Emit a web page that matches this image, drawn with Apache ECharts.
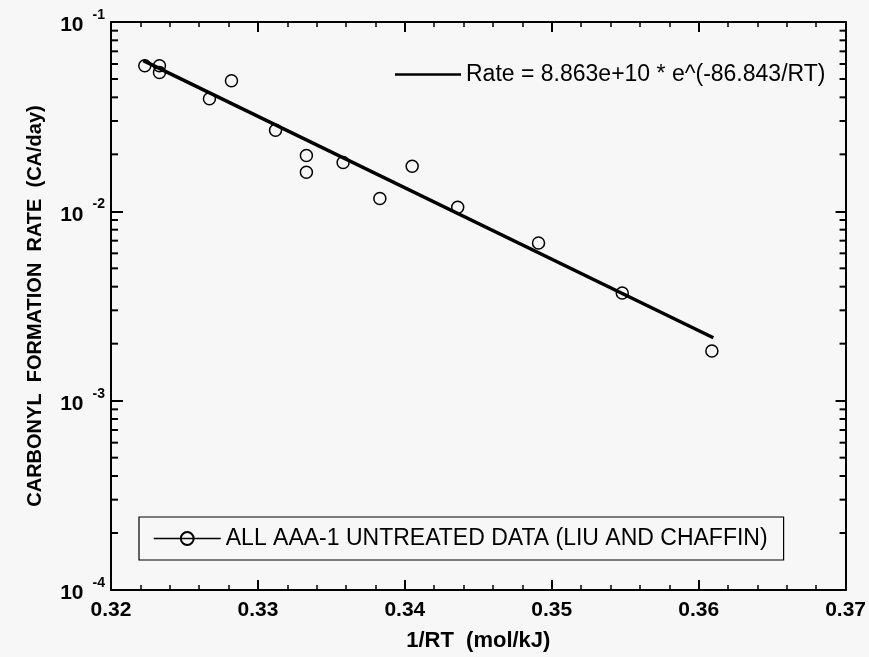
<!DOCTYPE html>
<html>
<head>
<meta charset="utf-8">
<script src="https://cdn.jsdelivr.net/npm/echarts@6/dist/echarts.min.js"></script>
<style>
  html, body { margin: 0; padding: 0; background: #f7f7f7; }
  #chart { width: 869px; height: 657px; }
</style>
</head>
<body>
<div id="chart"></div>
<script>
// Measured reciprocal temperature (mol/kJ) and carbonyl formation rate (CA/day)
const invRT = [0.3223, 0.3233, 0.3233, 0.3267, 0.3282, 0.3312, 0.3333, 0.3333,
               0.3358, 0.3383, 0.3405, 0.3436, 0.3491, 0.3548, 0.3609];
const rate  = [0.0587, 0.0587, 0.0541, 0.0393, 0.0489, 0.0268, 0.0197, 0.0161,
               0.0181, 0.0117, 0.0173, 0.0105, 0.0068, 0.0037, 0.00183];

// Arrhenius fit: Rate = A * e^(-Ea/RT), drawn over the span of the data
const fitA = 8.863e10;
const fitEa = 86.843;
const fitRange = [0.3222, 0.3610];

// Axis ticks
const xTicks = [0.32, 0.33, 0.34, 0.35, 0.36, 0.37];
const yDecades = [1e-4, 1e-3, 1e-2, 1e-1];
const yMinorMultipliers = [2, 3, 4, 5, 6, 7, 8, 9];

const FONT = '"Liberation Sans", Arial, Helvetica, sans-serif';
const INK = '#000';

const fitName = 'Rate = ' + fitA.toExponential(3) + ' * e^(-' + fitEa + '/RT)';
const dataName = 'ALL AAA-1 UNTREATED DATA (LIU AND CHAFFIN)';

const points = invRT.map((x, i) => [x, rate[i]]);
const fitLine = fitRange.map(x => [x, fitA * Math.exp(-fitEa * x)]);

const minorY = [];
yDecades.slice(0, -1).forEach(d => yMinorMultipliers.forEach(m => minorY.push([xTicks[0], m * d])));

const chart = echarts.init(document.getElementById('chart'), null, { renderer: 'canvas' });

const xCommon = {
  type: 'value',
  min: xTicks[0],
  max: xTicks[xTicks.length - 1],
  interval: 0.01,
  axisLine: { show: true, lineStyle: { color: INK, width: 2 } },
  axisTick: { show: true, inside: true, length: 10, lineStyle: { color: INK, width: 2 } },
  minorTick: { show: true, splitNumber: 5, length: 5, lineStyle: { color: INK, width: 1.5 } },
  splitLine: { show: false },
  minorSplitLine: { show: false }
};

const yCommon = {
  type: 'log',
  logBase: 10,
  min: yDecades[0],
  max: yDecades[yDecades.length - 1],
  splitNumber: 3,
  axisLine: { show: true, lineStyle: { color: INK, width: 2 } },
  axisTick: { show: true, inside: true, length: 12, lineStyle: { color: INK, width: 2 } },
  splitLine: { show: false }
};

chart.setOption({
  backgroundColor: '#f7f7f7',
  animation: false,
  grid: { left: 111, right: 21, top: 22, bottom: 65 },
  xAxis: [
    Object.assign({}, xCommon, {
      position: 'bottom',
      name: '1/RT  (mol/kJ)',
      nameLocation: 'middle',
      nameGap: 40,
      nameTextStyle: { fontFamily: FONT, fontWeight: 'bold', fontSize: 22, color: INK },
      axisLabel: {
        margin: 10,
        fontFamily: FONT, fontWeight: 'bold', fontSize: 21, color: INK,
        formatter: v => v.toFixed(2)
      }
    }),
    Object.assign({}, xCommon, { position: 'top', axisLabel: { show: false } })
  ],
  yAxis: [
    Object.assign({}, yCommon, {
      position: 'left',
      name: 'CARBONYL  FORMATION  RATE  (CA/day)',
      nameLocation: 'middle',
      nameGap: 66,
      nameTextStyle: { fontFamily: FONT, fontWeight: 'bold', fontSize: 20, color: INK },
      axisLabel: {
        margin: 6,
        formatter: v => '{b|10}{s|' + Math.round(Math.log10(v)) + '}',
        rich: {
          b: { fontFamily: FONT, fontWeight: 'bold', fontSize: 21, color: INK, lineHeight: 28, verticalAlign: 'bottom' },
          s: { fontFamily: FONT, fontWeight: 'bold', fontSize: 14, color: INK, lineHeight: 28, verticalAlign: 'top', padding: [0, 0, 0, 9] }
        }
      }
    }),
    Object.assign({}, yCommon, {
      position: 'right',
      axisTick: { show: true, inside: true, length: 10, lineStyle: { color: INK, width: 2 } },
      axisLabel: { show: false }
    })
  ],
  legend: [
    {
      data: [{ name: fitName, icon: 'rect', itemStyle: { color: INK } }],
      left: 390,
      top: 58,
      itemWidth: 66,
      itemHeight: 2.5,
      textStyle: { fontFamily: FONT, fontSize: 23, color: INK },
      selectedMode: false
    },
    {
      data: [dataName],
      left: 139,
      top: 517,
      padding: [10, 16, 10, 14],
      borderColor: INK,
      borderWidth: 1.2,
      itemWidth: 67,
      itemHeight: 16,
      textStyle: { fontFamily: FONT, fontSize: 23, color: INK },
      lineStyle: { width: 1.5, color: INK, opacity: 1 },
      selectedMode: false
    }
  ],
  series: [
    {
      name: fitName,
      type: 'line',
      xAxisIndex: 0,
      yAxisIndex: 0,
      data: fitLine,
      symbol: 'none',
      itemStyle: { color: INK },
      lineStyle: { color: INK, width: 3.5 },
      z: 3
    },
    {
      name: dataName,
      type: 'line',
      xAxisIndex: 0,
      yAxisIndex: 0,
      data: points,
      symbol: 'circle',
      symbolSize: 12,
      showAllSymbol: true,
      lineStyle: { opacity: 0, width: 0 },
      itemStyle: { color: 'transparent', borderColor: INK, borderWidth: 1.5 },
      z: 4
    },
    {
      // minor ticks of the logarithmic axes at 2..9 within each decade
      type: 'custom',
      xAxisIndex: 0,
      yAxisIndex: 0,
      silent: true,
      data: minorY,
      renderItem: (params, api) => {
        const y = api.coord([api.value(0), api.value(1)])[1];
        const left = params.coordSys.x;
        const right = left + params.coordSys.width;
        const style = { stroke: INK, lineWidth: 2 };
        return {
          type: 'group',
          children: [
            { type: 'line', shape: { x1: left, y1: y, x2: left + 7, y2: y }, style },
            { type: 'line', shape: { x1: right - 6, y1: y, x2: right, y2: y }, style }
          ]
        };
      },
      z: 5
    }
  ]
});
</script>
</body>
</html>
